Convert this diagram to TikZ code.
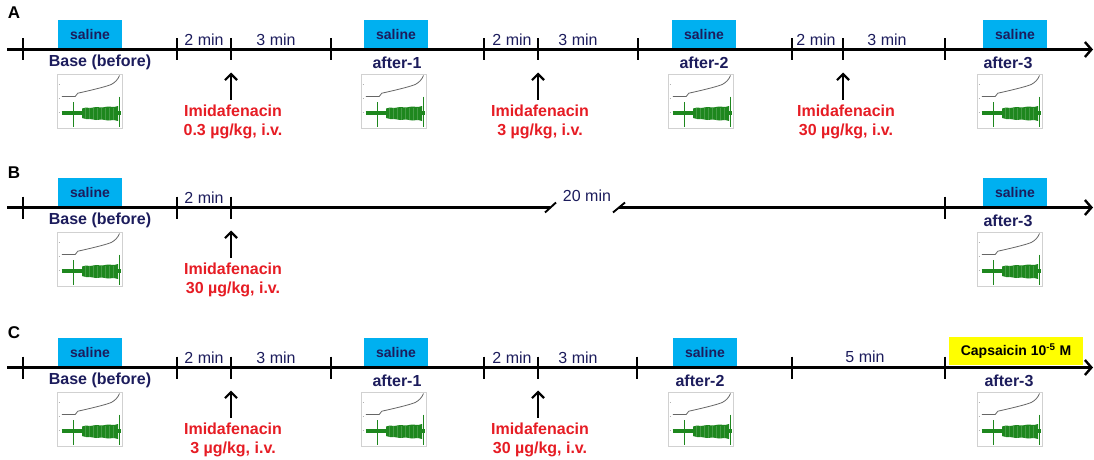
\documentclass[tikz,border=0pt]{standalone}
\usepackage{fontspec}
\setmainfont{Liberation Sans}
\usetikzlibrary{arrows.meta}
\definecolor{navy}{RGB}{28,28,92}
\definecolor{salcyan}{RGB}{0,176,240}
\definecolor{imred}{RGB}{230,28,36}
\definecolor{capy}{RGB}{255,255,0}
\definecolor{trgreen}{RGB}{30,135,30}
\tikzset{
  axis/.style={line width=2.4pt, -{Straight Barb[length=6.5pt,width=15pt]}},
  tickmark/.style={line width=1.9pt},
  salbox/.style={fill=salcyan, minimum width=64pt, minimum height=28pt, inner sep=0pt,
    font=\fontsize{14}{16}\selectfont\bfseries, text=navy, anchor=south},
  capbox/.style={fill=capy, minimum width=134pt, minimum height=28pt, inner sep=0pt,
    font=\fontsize{14}{16}\selectfont\bfseries, text=black, anchor=south},
  phase/.style={font=\fontsize{16}{18}\selectfont\bfseries, text=navy, inner sep=0pt},
  dur/.style={font=\fontsize{16}{18}\selectfont, text=navy, inner sep=0pt},
  drug/.style={font=\fontsize{16}{19}\selectfont\bfseries, text=imred, align=center, inner sep=0pt, anchor=north},
  inject/.style={line width=2.2pt, -{Straight Barb[length=6pt,width=12pt]}},
  panel/.style={font=\fontsize{17}{19}\selectfont\bfseries, inner sep=0pt},
  breakmark/.style={line width=1.9pt},
  thumb/.pic={
    \draw[black!18, line width=0.6pt] (-32.5,0) rectangle (32.5,54);
    \foreach \yy in {10,24,38} \draw[black!30, line width=0.4pt] (-31.5,\yy) -- (-30,\yy);
    \draw[black!60, line width=0.8pt] (-28.2,22) -- (-14.8,22) -- (-12.2,18.7)
      .. controls (0,16) and (15,12.5) .. (21.2,10) .. controls (25,8) and (28,5) .. (29.5,1);
    \draw[trgreen, line width=4pt] (-28.5,38.7) -- (30.5,38.7);
    \fill[trgreen] (-8,34) -- (-4,33) -- (0,33.5) -- (6,32.5) -- (12,33) -- (18,32) -- (24,32.5) -- (28,31.5)
      -- (28,46.5) -- (24,45.5) -- (18,46) -- (12,45) -- (6,45.5) -- (0,44.5) -- (-4,44.5) -- (-8,43.5) -- cycle;
    \foreach \xx in {-5,-1,3,7,11,15,19,23}
      \draw[white, opacity=0.18, line width=0.5pt] (\xx,33) -- (\xx,45);
    \draw[trgreen, line width=1pt] (-16.5,27.7) -- (-16.5,52);
    \draw[trgreen, line width=1pt] (29.5,22) -- (29.5,52);
  }
}
\begin{document}
\begin{tikzpicture}[x=1pt,y=-1pt]
\useasboundingbox (0,0) rectangle (1094,460);
\def\yA{49.5}
\def\yB{207.5}
\def\yC{367.5}

% ---------------- Panel A ----------------
\node[panel] (labA) at (14,13) {A};
\coordinate (sA) at (7,\yA);
\coordinate (eA) at (1093,\yA);
\draw[axis] (sA) -- (eA);
\foreach \x in {23,177,231,331,484,538,638,792,843,945}
  \draw[tickmark] (\x,{\yA-11}) -- (\x,{\yA+11});
\node[salbox] (salA0) at (90,{\yA-1}) {saline};
\node[salbox] (salA1) at (396,{\yA-1}) {saline};
\node[salbox] (salA2) at (704,{\yA-1}) {saline};
\node[salbox] (salA3) at (1015,{\yA-1}) {saline};
\node[phase] (phA0) at (100,{\yA+13}) {Base (before)};
\node[phase] (phA1) at (397,{\yA+13}) {after-1};
\node[phase] (phA2) at (704,{\yA+13}) {after-2};
\node[phase] (phA3) at (1008,{\yA+13}) {after-3};
\pic at (90,{\yA+25}) {thumb};
\pic at (394,{\yA+25}) {thumb};
\pic at (701,{\yA+25}) {thumb};
\pic at (1010,{\yA+25}) {thumb};
\node[dur] (dA1) at (204,{\yA-10}) {2 min};
\node[dur] (dA2) at (276,{\yA-10}) {3 min};
\node[dur] (dA3) at (512,{\yA-10}) {2 min};
\node[dur] (dA4) at (578,{\yA-10}) {3 min};
\node[dur] (dA5) at (816,{\yA-10}) {2 min};
\node[dur] (dA6) at (887,{\yA-10}) {3 min};
\coordinate (tA1) at (231,{\yA+23});
\coordinate (tA2) at (538,{\yA+23});
\coordinate (tA3) at (843,{\yA+23});
\node[drug] (drA1) at (233,{\yA+55}) {Imidafenacin\\0.3 µg/kg, i.v.};
\node[drug] (drA2) at (540,{\yA+55}) {Imidafenacin\\3 µg/kg, i.v.};
\node[drug] (drA3) at (846,{\yA+55}) {Imidafenacin\\30 µg/kg, i.v.};
\draw[inject] ([yshift=5pt]drA1.north -| tA1) -- (tA1);
\draw[inject] ([yshift=5pt]drA2.north -| tA2) -- (tA2);
\draw[inject] ([yshift=5pt]drA3.north -| tA3) -- (tA3);

% ---------------- Panel B ----------------
\node[panel] (labB) at (14,173) {B};
\coordinate (sB) at (7,\yB);
\coordinate (mB1) at (550,\yB);
\coordinate (mB2) at (619,\yB);
\coordinate (eB) at (1093,\yB);
\draw[line width=2.4pt] (sB) -- (mB1);
\draw[axis] (mB2) -- (eB);
\draw[breakmark] (545,{\yB+5}) -- (556,{\yB-5});
\draw[breakmark] (613,{\yB+5}) -- (625,{\yB-5});
\foreach \x in {23,177,231,945}
  \draw[tickmark] (\x,{\yB-11}) -- (\x,{\yB+11});
\node[salbox] (salB0) at (90,{\yB-1}) {saline};
\node[salbox] (salB3) at (1015,{\yB-1}) {saline};
\node[phase] (phB0) at (100,{\yB+13}) {Base (before)};
\node[phase] (phB3) at (1008,{\yB+13}) {after-3};
\pic at (90,{\yB+25}) {thumb};
\pic at (1010,{\yB+25}) {thumb};
\node[dur] (dB1) at (204,{\yB-10}) {2 min};
\node[dur] (dB2) at (587,{\yB-12}) {20 min};
\coordinate (tB1) at (231,{\yB+23});
\node[drug] (drB1) at (233,{\yB+55}) {Imidafenacin\\30 µg/kg, i.v.};
\draw[inject] ([yshift=5pt]drB1.north -| tB1) -- (tB1);

% ---------------- Panel C ----------------
\node[panel] (labC) at (14,333) {C};
\coordinate (sC) at (7,\yC);
\coordinate (eC) at (1093,\yC);
\draw[axis] (sC) -- (eC);
\foreach \x in {23,177,231,331,484,538,637,792,945}
  \draw[tickmark] (\x,{\yC-11}) -- (\x,{\yC+11});
\node[salbox] (salC0) at (90,{\yC-1}) {saline};
\node[salbox] (salC1) at (396,{\yC-1}) {saline};
\node[salbox] (salC2) at (705,{\yC-1}) {saline};
\node[capbox] (capC3) at (1016,{\yC-2}) {Capsaicin 10\textsuperscript{-5} M};
\node[phase] (phC0) at (100,{\yC+13}) {Base (before)};
\node[phase] (phC1) at (397,{\yC+13}) {after-1};
\node[phase] (phC2) at (700,{\yC+13}) {after-2};
\node[phase] (phC3) at (1009,{\yC+13}) {after-3};
\pic at (90,{\yC+25}) {thumb};
\pic at (394,{\yC+25}) {thumb};
\pic at (701,{\yC+25}) {thumb};
\pic at (1010,{\yC+25}) {thumb};
\node[dur] (dC1) at (204,{\yC-10}) {2 min};
\node[dur] (dC2) at (276,{\yC-10}) {3 min};
\node[dur] (dC3) at (512,{\yC-10}) {2 min};
\node[dur] (dC4) at (578,{\yC-10}) {3 min};
\node[dur] (dC5) at (865,{\yC-11}) {5 min};
\coordinate (tC1) at (231,{\yC+23});
\coordinate (tC2) at (538,{\yC+23});
\node[drug] (drC1) at (233,{\yC+55}) {Imidafenacin\\3 µg/kg, i.v.};
\node[drug] (drC2) at (540,{\yC+55}) {Imidafenacin\\30 µg/kg, i.v.};
\draw[inject] ([yshift=5pt]drC1.north -| tC1) -- (tC1);
\draw[inject] ([yshift=5pt]drC2.north -| tC2) -- (tC2);
\end{tikzpicture}
\end{document}
